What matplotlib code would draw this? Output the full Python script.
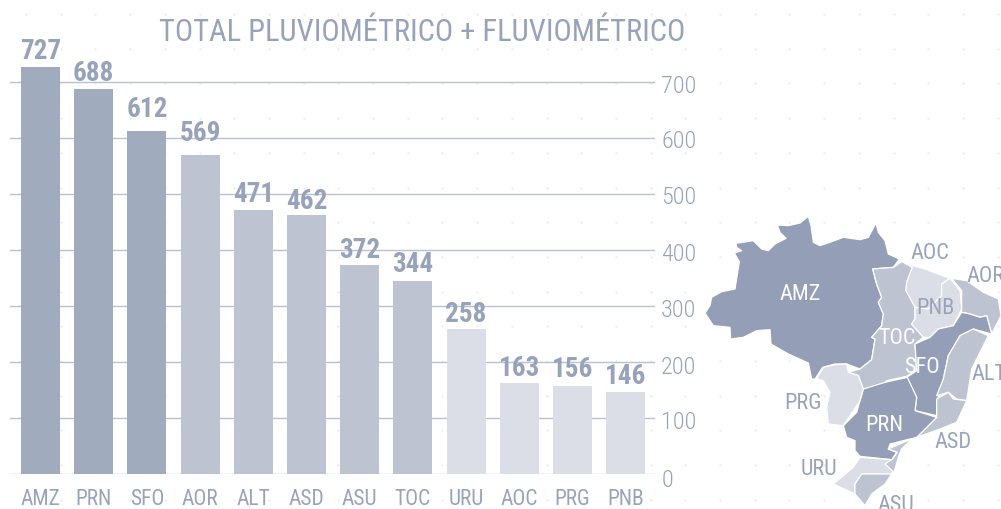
import numpy as np
import matplotlib
matplotlib.use("Agg")
import matplotlib.pyplot as plt
from matplotlib.patches import Polygon
from matplotlib.transforms import Affine2D

categories = ["AMZ", "PRN", "SFO", "AOR", "ALT", "ASD", "ASU", "TOC", "URU", "AOC", "PRG", "PNB"]
values = [727, 688, 612, 569, 471, 462, 372, 344, 258, 163, 156, 146]
label_lift = [0, 0, 6, 6, 0, -2, -1, 1, -1, -1, 1, 0]
y_ticks = [0, 100, 200, 300, 400, 500, 600, 700]
y_tick_drop = [3.5, 1.5, 2.5, 1.5, 1, 0.5, 0.5, 1]
title = "TOTAL PLUVIOMÉTRICO + FLUVIOMÉTRICO"

DARK, MID, LIGHT = "#A1ABBE", "#BDC3D0", "#DBDEE6"
MAP_DARK = "#949FB7"
TEXT = "#98A3BB"
GRID = "#B8C0D1"
bar_colors = [DARK] * 3 + [MID] * 5 + [LIGHT] * 4

regions = {
    "AMZ": (MAP_DARK, [(598,180),(565,165),(555,125),(535,100),(528,72),(505,115),(480,122),(430,115),(395,128),(360,140),(340,130),(333,80),(325,52),(300,72),(265,80),(232,78),(240,100),(258,118),(225,135),(205,155),(185,150),(160,125),(108,133),(110,145),(125,155),(103,162),(118,188),(105,270),(65,278),(35,295),(30,320),(15,342),(40,380),(90,385),(92,420),(130,415),(170,395),(210,392),(213,435),(265,465),(325,492),(335,540),(345,540),(368,505),(405,495),(440,495),(480,510),(515,482),(525,420),(515,415),(545,380),(550,345),(535,310),(545,295),(530,255),(518,210),(580,205)]),
    "TOC": (MID, [(518,210),(580,205),(605,188),(637,205),(620,250),(618,275),(645,315),(645,360),(635,375),(670,415),(645,435),(650,515),(620,532),(560,545),(545,560),(490,570),(475,530),(445,520),(480,510),(515,482),(525,420),(515,415),(545,380),(550,345),(535,310),(545,295),(530,255)]),
    "AOC": (LIGHT, [(605,185),(640,200),(680,212),(750,238),(725,255),(725,290),(685,330),(645,325),(618,275),(620,250),(637,205)]),
    "PNB": (LIGHT, [(725,255),(750,238),(780,275),(785,330),(760,380),(715,390),(690,415),(670,415),(635,375),(645,360),(645,325),(685,330),(725,290)]),
    "AOR": (MID, [(755,238),(800,245),(850,280),(895,300),(903,350),(875,405),(860,350),(840,355),(810,345),(785,340),(785,275)]),
    "SFO": (MAP_DARK, [(875,405),(860,350),(840,355),(810,345),(785,340),(760,380),(715,390),(690,415),(645,435),(650,515),(620,535),(650,595),(645,635),(710,650),(715,590),(730,540),(745,470),(780,410),(820,390)]),
    "ALT": (MID, [(865,410),(820,390),(780,410),(745,470),(730,540),(710,590),(745,580),(770,600),(800,605),(815,510),(850,440)]),
    "ASD": (MID, [(710,600),(745,580),(760,600),(800,605),(770,670),(720,690),(650,715),(710,655)]),
    "PRN": (MAP_DARK, [(490,570),(555,550),(622,535),(650,595),(645,635),(710,655),(650,715),(570,735),(565,750),(590,760),(575,782),(480,772),(465,755),(465,725),(440,715),(430,680),(470,640)]),
    "PRG": (LIGHT, [(350,540),(370,505),(405,497),(440,495),(445,520),(475,530),(490,570),(480,605),(450,650),(430,680),(385,675),(380,625),(390,580),(370,545)]),
    "URU": (LIGHT, [(480,775),(575,782),(555,795),(580,815),(575,825),(485,825),(465,855),(465,885),(400,855),(460,805)]),
    "ASU": (MID, [(485,825),(575,825),(555,855),(515,885),(495,920),(465,885),(465,855)]),
    "ASU2": (MID, [(565,750),(635,720),(605,750),(595,775),(582,820),(555,795),(578,780),(592,760)]),
}
map_labels = [
    ("AMZ", 300, 283, "white"), ("TOC", 592, 415, "white"), ("SFO", 665, 502, "white"),
    ("PRN", 552, 677, "white"), ("PNB", 705, 327, TEXT), ("AOC", 690, 160, TEXT),
    ("AOR", 858, 228, TEXT), ("ALT", 866, 523, TEXT), ("PRG", 310, 610, TEXT),
    ("URU", 358, 810, TEXT), ("ASD", 758, 727, TEXT), ("ASU", 587, 917, TEXT),
]

plt.rcParams["font.family"] = ["Roboto Condensed", "DejaVu Sans"]
W, H = 1001, 510
fig = plt.figure(figsize=(W / 100, H / 100), dpi=100, facecolor="white")

# background dot pattern
bg = fig.add_axes([0, 0, 1, 1], zorder=0)
bg.set_xlim(0, W); bg.set_ylim(H, 0); bg.axis("off")
dx, dy = np.meshgrid(np.arange(26, W, 34.7), np.arange(15, H, 34.7))
bg.scatter(dx.ravel(), dy.ravel(), s=2.5, color="#E9EBF0", linewidths=0)

# bar chart, y scale 0.56 px per unit
L, R, B = 10, 655, 474.8
ax = fig.add_axes([L / W, (H - B) / H, (R - L) / W, B / H], zorder=1)
ax.patch.set_alpha(0)
step = 53.2
ax.set_xlim((L - 40.5) / step, (R - 40.5) / step)
ax.set_ylim(0, B / 0.56)
for s in ax.spines.values():
    s.set_visible(False)
ax.set_axisbelow(True)
ax.set_yticks(y_ticks)
ax.yaxis.tick_right()
ax.tick_params(axis="y", length=0, pad=4.5, labelsize=17.5, labelcolor=TEXT)
ax.grid(axis="y", color=GRID, lw=1.0)
ax.grid(axis="x", visible=False)
ax.set_yticklabels([str(v) for v in y_ticks], fontweight="light")
for tick, drop in zip(ax.yaxis.get_major_ticks(), y_tick_drop):
    tick.label2.set_transform(tick.label2.get_transform() + Affine2D().translate(0, -drop))
x = np.arange(len(categories))
ax.bar(x, values, width=39 / step, color=bar_colors, zorder=2)
ax.set_xticks(x)
ax.set_xticklabels(categories, fontsize=15.5, color=TEXT)
ax.tick_params(axis="x", length=0, pad=10.5)
for xi, v, lift in zip(x, values, label_lift):
    ax.annotate(str(v), (xi, v), xytext=(0, 3 + lift), textcoords="offset pixels", ha="center", va="bottom",
                fontsize=19.5, fontweight="bold", color=TEXT, zorder=3)
fig.text(422 / W, 1 - 32.5 / H, title, ha="center", va="center", fontsize=22, color=TEXT)

# map, outlines in reference-crop units
mp = fig.add_axes([0, 0, 1, 1], zorder=2)
mp.set_xlim(-2100, 903); mp.set_ylim(930, -600); mp.axis("off"); mp.patch.set_alpha(0)
for name, (col, pts) in regions.items():
    mp.add_patch(Polygon(pts, closed=True, facecolor=col, edgecolor="white", lw=0.9, joinstyle="round"))
for name, zx, zy, col in map_labels:
    mp.text(zx, zy, name, ha="center", va="center", fontsize=16, color=col, clip_on=False)

fig.savefig("out.png", dpi=100, facecolor="white")
